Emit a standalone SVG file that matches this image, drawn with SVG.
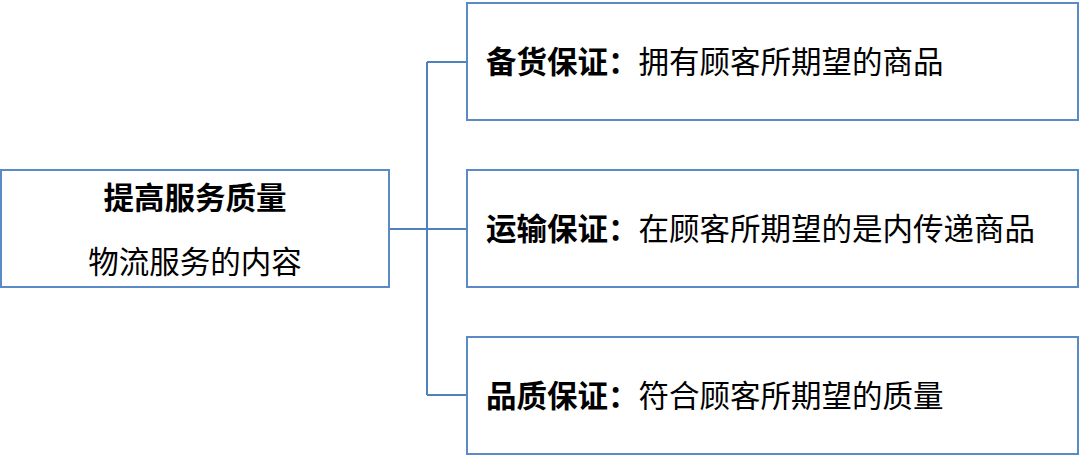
<svg xmlns="http://www.w3.org/2000/svg" width="1080" height="458" viewBox="0 0 1080 458">
<style>
.box{fill:#fff;stroke:#5B8BC6;stroke-width:2}
.con{fill:none;stroke:#4F81BD;stroke-width:2}
text{font-family:"Microsoft YaHei","Noto Sans CJK SC","Noto Sans",sans-serif;font-size:30.5px;fill:#000}
.b{font-weight:bold}
</style>
<rect width="1080" height="458" fill="#fff"/>
<g id="connectors">
<path class="con" d="M389 229 H427 M427 62 V395 M427 62 H467 M427 229 H467 M427 395 H467"/>
</g>
<g id="root">
<rect class="box" x="1" y="170" width="388" height="117"/>
<text x="195" y="209" text-anchor="middle" class="b">提高服务质量</text>
<text x="195" y="273" text-anchor="middle">物流服务的内容</text>
</g>
<g id="stock">
<rect class="box" x="467" y="3" width="611" height="117"/>
<text x="486" y="73"><tspan class="b">备货保证：</tspan>拥有顾客所期望的商品</text>
</g>
<g id="transport">
<rect class="box" x="467" y="170" width="611" height="117"/>
<text x="486" y="240"><tspan class="b">运输保证：</tspan>在顾客所期望的是内传递商品</text>
</g>
<g id="quality">
<rect class="box" x="467" y="337" width="611" height="117"/>
<text x="486" y="407"><tspan class="b">品质保证：</tspan>符合顾客所期望的质量</text>
</g>
</svg>
